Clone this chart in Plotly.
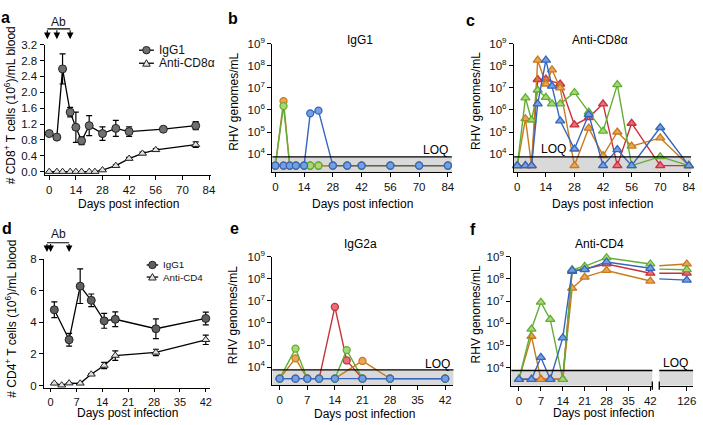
import plotly.graph_objects as go

W, H = 703, 425
def px(x): return x / W
def py(y): return 1 - y / H

# ---------------- data ----------------
# panel a : CD8+ T cells
cd8_igg_days = [0, 4, 7, 11, 14, 17, 21, 28, 35, 42, 60, 77]
cd8_igg_vals = [0.96, 0.87, 2.59, 1.50, 1.12, 0.78, 1.16, 0.96, 1.09, 1.01, 1.07, 1.16]
cd8_igg_err = [0.03, 0.03, 0.38, 0.12, 0.38, 0.10, 0.25, 0.17, 0.20, 0.12, 0.03, 0.10]
cd8_anti_days = [0, 4, 7, 11, 14, 17, 21, 24, 28, 35, 42, 49, 56, 77]
cd8_anti_vals = [0, 0, 0, 0, 0, 0, 0, 0, 0.04, 0.15, 0.33, 0.46, 0.55, 0.68]
cd8_anti_err = [0, 0, 0, 0, 0, 0, 0, 0, 0.01, 0.02, 0.03, 0.03, 0.03, 0.07]
cd8_ab_days = [-1, 4, 11]
cd8_yticks = [0.0, 0.4, 0.8, 1.2, 1.6, 2.0, 2.4, 2.8, 3.2]
days84_ticks = [0, 14, 28, 42, 56, 70, 84]

# panel d : CD4+ T cells
cd4_igg_days = [1, 5, 8, 11, 14.5, 17.5, 28.5, 42]
cd4_igg_vals = [4.8, 2.9, 6.3, 5.4, 4.1, 4.2, 3.6, 4.25]
cd4_igg_err = [0.5, 0.4, 1.1, 0.4, 0.47, 0.47, 0.63, 0.4]
cd4_anti_days = [1, 3, 5, 8, 11, 14.5, 17.5, 28.5, 42]
cd4_anti_vals = [0.14, 0.02, 0.15, 0.14, 0.71, 1.27, 1.9, 2.1, 2.9]
cd4_anti_err = [0.02, 0.02, 0.02, 0.02, 0.05, 0.2, 0.3, 0.2, 0.3]
cd4_ab_days = [-1, 0, 5]
cd4_yticks = [0, 2, 4, 6, 8]
days42_ticks = [0, 7, 14, 21, 28, 35, 42]

# viral loads
LOQ = 7500
BLQ = 3000
log_ticks = [1e4, 1e5, 1e6, 1e7, 1e8, 1e9]
log_ticklabels = ['10<sup>4</sup>', '10<sup>5</sup>', '10<sup>6</sup>',
                  '10<sup>7</sup>', '10<sup>8</sup>', '10<sup>9</sup>']

# panel b : IgG1
b_days = [0, 4, 7, 10, 14, 17, 21, 28, 35, 42, 56, 70, 84]
b_red = [BLQ] * 13
b_orange = [BLQ, 2.5e6, BLQ, BLQ, BLQ, BLQ, BLQ, BLQ, BLQ, BLQ, BLQ, BLQ, BLQ]
b_green = [BLQ, 1.5e6, BLQ, BLQ, BLQ, BLQ, BLQ, BLQ, BLQ, BLQ, BLQ, BLQ, BLQ]
b_blue = [BLQ, BLQ, BLQ, BLQ, BLQ, 7e5, 9.3e5, BLQ, BLQ, BLQ, BLQ, BLQ, BLQ]

# panel c : anti-CD8a
c_days = [0, 4, 7, 10, 14, 17, 21, 28, 35, 42, 49, 56, 70, 84]
c_red = [BLQ, BLQ, BLQ, 2.4e7, 2.5e7, None, 1.5e7, 2.1e5, 4.5e5, 1.9e6, BLQ, 2.5e5, BLQ, BLQ]
c_orange = [BLQ, 4e5, BLQ, 1.8e8, 1.5e7, 6.6e7, 1e7, BLQ, 1.5e5, 8.5e3, 1e5, 2.3e4, 5.4e4, BLQ]
c_green = [BLQ, 3.5e6, 3.5e5, 8e6, 3.7e6, 1.9e6, 1.9e6, 6.2e6, 8e5, 1.1e5, 1.4e7, BLQ, 7.6e3, BLQ]
c_blue = [BLQ, BLQ, BLQ, 1.9e6, 1.8e8, 1.2e7, 3.2e5, 1.7e4, 6.2e5, BLQ, 1.6e4, BLQ, 1.6e5, BLQ]

# panel e : IgG2a
e_days = [0, 4, 7, 10, 14, 17, 21, 28, 42]
e_red = [BLQ, BLQ, BLQ, BLQ, 5.3e6, 2e4, BLQ, BLQ, BLQ]
e_orange = [BLQ, 2.5e4, BLQ, BLQ, BLQ, None, 1.9e4, BLQ, BLQ]
e_green = [BLQ, 6.9e4, BLQ, BLQ, BLQ, 5.9e4, BLQ, BLQ, BLQ]
e_blue = [BLQ, BLQ, BLQ, BLQ, BLQ, None, BLQ, BLQ, BLQ]

# panel f : anti-CD4
f_days = [0, 4, 7, 10, 14, 17, 21, 28, 42, 126]
f_red = [BLQ, BLQ, BLQ, BLQ, BLQ, 2.2e8, 2.8e8, 4.7e8, 1.8e8, 1.8e8]
f_orange = [BLQ, 2.6e5, BLQ, BLQ, BLQ, 3.8e7, 1.2e8, 2.4e8, 8e7, 4.7e8]
f_green = [BLQ, 5.5e5, 8.9e6, 1.5e6, BLQ, 2.6e8, 3.7e8, 9e8, 4.7e8, 2.6e8]
f_blue = [BLQ, BLQ, 2.9e4, BLQ, 2.2e5, 2.4e8, 2.6e8, 5.8e8, 3e8, 8.8e7]
f_late_ticks = [126]

# ---------------- styles ----------------
FONT = 'Liberation Sans, Arial, sans-serif'
COL = {
    'red': ('#c8303c', '#e4707a'),
    'orange': ('#c87a1e', '#eaa555'),
    'green': ('#62ad35', '#a8d873'),
    'blue': ('#3565bd', '#72a0e0'),
}
LOGMIN, LOGMAX = 3.19, 9.0

fig = go.Figure()

def add_series(x, y, err, symbol, fill, xa, ya, size):
    fig.add_trace(go.Scatter(
        x=x, y=y, mode='lines+markers', xaxis=xa, yaxis=ya, showlegend=False,
        line=dict(color='black', width=1.3),
        marker=dict(symbol=symbol, size=size, color=fill, line=dict(color='#222', width=1)),
        error_y=dict(type='data', array=err, color='black', thickness=1.2, width=3),
        cliponaxis=False))

add_series(cd8_anti_days, cd8_anti_vals, cd8_anti_err, 'triangle-up', '#e2e2e2', 'x', 'y', 7)
add_series(cd8_igg_days, cd8_igg_vals, cd8_igg_err, 'circle', '#707070', 'x', 'y', 8)
add_series(cd4_anti_days, cd4_anti_vals, cd4_anti_err, 'triangle-up', '#e2e2e2', 'x4', 'y4', 7)
add_series(cd4_igg_days, cd4_igg_vals, cd4_igg_err, 'circle', '#606060', 'x4', 'y4', 8)

def add_viral(x, y, cname, symbol, xa, ya, clip=False):
    line_c, fill_c = COL[cname]
    fig.add_trace(go.Scatter(
        x=x, y=y, mode='lines+markers', xaxis=xa, yaxis=ya, showlegend=False,
        connectgaps=True, cliponaxis=clip,
        line=dict(color=line_c, width=1.4),
        marker=dict(symbol=symbol, size=7 if symbol == 'circle' else 8,
                    color=fill_c, line=dict(color=line_c, width=1.3))))

for name, vals in [('red', b_red), ('orange', b_orange), ('green', b_green), ('blue', b_blue)]:
    add_viral(b_days, vals, name, 'circle', 'x2', 'y2')
for name, vals in [('red', c_red), ('orange', c_orange), ('green', c_green), ('blue', c_blue)]:
    add_viral(c_days, vals, name, 'triangle-up', 'x3', 'y3')
for name, vals in [('red', e_red), ('orange', e_orange), ('green', e_green), ('blue', e_blue)]:
    add_viral(e_days, vals, name, 'circle', 'x5', 'y5')
for name, vals in [('red', f_red), ('orange', f_orange), ('green', f_green), ('blue', f_blue)]:
    add_viral(f_days[:-1], vals[:-1], name, 'triangle-up', 'x6', 'y6')
    add_viral(f_days[-2:], vals[-2:], name, 'triangle-up', 'x7', 'y6', clip=True)

axis_common = dict(showline=True, linecolor='black', linewidth=1.3, showgrid=False,
                   zeroline=False, ticks='outside', ticklen=4, tickwidth=1.2,
                   tickcolor='black', tickfont=dict(family=FONT, size=11.5, color='#111'))

def xax(l, r, rng, ticks, anchor):
    d = dict(axis_common)
    d.update(domain=[px(l), px(r)], range=rng, tickvals=ticks, anchor=anchor)
    return d

def yax(top, bottom, rng, ticks, anchor, log=False, fmt=None, text=None):
    d = dict(axis_common)
    d.update(domain=[py(bottom), py(top)], range=rng, tickvals=ticks, anchor=anchor)
    if log:
        d.update(type='log', ticktext=text)
    if fmt:
        d.update(tickformat=fmt)
    return d

layout = dict(
    width=W, height=H, margin=dict(l=0, r=0, t=0, b=0),
    paper_bgcolor='white', plot_bgcolor='white', showlegend=False,
    font=dict(family=FONT, size=12, color='#111'),
    xaxis=xax(45, 213, [-2.4, 85.3], days84_ticks, 'y'),
    yaxis=yax(37.7, 171, [-0.074, 3.2], cd8_yticks, 'x', fmt='.1f'),
    xaxis2=xax(274.3, 455, [-1.45, 85.9], days84_ticks, 'y2'),
    yaxis2=yax(36.7, 168.3, [LOGMIN, LOGMAX], log_ticks, 'x2', log=True, text=log_ticklabels),
    xaxis3=xax(517.7, 696, [-1.6, 85.1], days84_ticks, 'y3'),
    yaxis3=yax(36.7, 168.3, [LOGMIN, LOGMAX], log_ticks, 'x3', log=True, text=log_ticklabels),
    xaxis4=xax(44.3, 211.7, [-1.8, 43.2], days42_ticks, 'y4'),
    yaxis4=yax(258, 390.3, [-0.17, 8], cd4_yticks, 'x4'),
    xaxis5=xax(274.3, 456.7, [-1.87, 44.1], days42_ticks, 'y5'),
    yaxis5=yax(255.3, 387, [LOGMIN, LOGMAX], log_ticks, 'x5', log=True, text=log_ticklabels),
    xaxis6=xax(515, 657, [-2.44, 42.63], days42_ticks, 'y6'),
    yaxis6=yax(255.3, 387.7, [LOGMIN, LOGMAX], log_ticks, 'x6', log=True, text=log_ticklabels),
    xaxis7=xax(664, 698, [117.2, 128], f_late_ticks, 'y6'),
)
# panel d ticks a little tighter so labels keep clear of the title
layout['xaxis4']['ticklen'] = 3
layout['xaxis4']['tickfont'] = dict(family=FONT, size=11, color='#111')

shapes = []
# LOQ bands and lines
for xa, ya in [('x2', 'y2'), ('x3', 'y3'), ('x5', 'y5'), ('x6', 'y6'), ('x7', 'y6')]:
    shapes.append(dict(type='rect', xref=xa + ' domain', yref=ya, x0=0, x1=1,
                       y0=10 ** LOGMIN, y1=LOQ, fillcolor='#d9d9d9', line=dict(width=0),
                       layer='below'))
    shapes.append(dict(type='line', xref=xa + ' domain', yref=ya, x0=0, x1=1,
                       y0=LOQ, y1=LOQ, line=dict(color='black', width=1.4)))
# axis break marks in panel f
for xb in [657, 664]:
    shapes.append(dict(type='line', xref='paper', yref='paper', x0=px(xb), x1=px(xb),
                       y0=py(392), y1=py(383.5), line=dict(color='black', width=1.3)))

annotations = []
# Ab dosing brackets
for xa, days, yb, ytip, ytext in [('x', cd8_ab_days, 21.5, 32.0, 14), ('x4', cd4_ab_days, 241, 250.5, 232)]:
    shapes.append(dict(type='line', xref=xa, yref='paper', x0=days[0], x1=days[-1],
                       y0=py(yb), y1=py(yb), line=dict(color='black', width=1.2)))
    for d in days:
        annotations.append(dict(x=d, y=py(ytip), xref=xa, yref='paper', text='',
                                showarrow=True, ax=0, ay=-(ytip - yb), arrowhead=2,
                                arrowsize=1.2, arrowwidth=1.1, arrowcolor='black'))
    annotations.append(dict(x=(days[0] + days[-1]) / 2, y=py(ytext), xref=xa, yref='paper',
                            text='Ab', showarrow=False, yanchor='middle', font=dict(size=12)))

# manual legends
def legend_entry(x0, x1, y, marker, fill, label, fsize):
    cx = (x0 + x1) / 2
    shapes.append(dict(type='line', xref='paper', yref='paper', x0=px(x0), x1=px(x1),
                       y0=py(y), y1=py(y), line=dict(color='black', width=1.3)))
    if marker == 'circle':
        r = 3.8
        shapes.append(dict(type='circle', xref='paper', yref='paper', x0=px(cx - r), x1=px(cx + r),
                           y0=py(y + r), y1=py(y - r), fillcolor=fill,
                           line=dict(color='#222', width=1)))
    else:
        s = 3.8
        path = 'M {:.5f},{:.5f} L {:.5f},{:.5f} L {:.5f},{:.5f} Z'.format(
            px(cx - s), py(y + s * 0.8), px(cx + s), py(y + s * 0.8), px(cx), py(y - s * 0.95))
        shapes.append(dict(type='path', xref='paper', yref='paper', path=path, fillcolor=fill,
                           line=dict(color='#222', width=1)))
    annotations.append(dict(x=px(x1 + 3), y=py(y), xref='paper', yref='paper', text=label,
                            xanchor='left', yanchor='middle', showarrow=False,
                            font=dict(size=fsize)))

legend_entry(140, 155, 43.3, 'circle', '#707070', 'IgG1', 12)
legend_entry(140, 155, 56.7, 'triangle', '#e2e2e2', 'Anti-CD8α', 12)
legend_entry(147.7, 159.3, 263.8, 'circle', '#606060', 'IgG1', 9.8)
legend_entry(147.7, 159.3, 276.2, 'triangle', '#e2e2e2', 'Anti-CD4', 9.8)

def text(x, y, s, size=12, angle=0, anchor='center', bold=False):
    annotations.append(dict(x=px(x), y=py(y), xref='paper', yref='paper',
                            text='<b>%s</b>' % s if bold else s, textangle=angle,
                            xanchor=anchor, yanchor='middle', showarrow=False,
                            font=dict(size=size, color='black')))

# panel letters
for letter, x, y in [('a', 6, 10), ('b', 235, 11), ('c', 474, 13),
                     ('d', 7, 226), ('e', 236, 226), ('f', 476, 227)]:
    text(x, y, letter, size=16, bold=True)

# panel titles
text(363, 33, 'IgG1')
text(604, 33, 'Anti-CD8α')
text(363, 242.7, 'IgG2a')
text(604, 242.7, 'Anti-CD4')

# LOQ labels
text(453, 146, 'LOQ', anchor='right')
text(543, 145, 'LOQ', anchor='left')
text(455, 365, 'LOQ', anchor='right')
text(695, 364, 'LOQ', anchor='right')

# axis titles
for x, y in [(129, 201), (365, 201), (607, 201), (128, 415.5), (367, 417), (608, 416)]:
    text(x, y, 'Days post infection')
text(10, 100, '# CD8<sup>+</sup> T cells (10<sup>6</sup>)/mL blood', angle=-90)
text(11, 319, '# CD4<sup>+</sup> T cells (10<sup>6</sup>)/mL blood', angle=-90)
for x, y in [(235, 96), (479, 96), (235, 315), (479, 315)]:
    text(x, y, 'RHV genomes/mL', angle=-90)

layout['shapes'] = shapes
layout['annotations'] = annotations
fig.update_layout(**layout)
fig.write_html('out.html', config={'displayModeBar': False},
               post_script="document.body.style.margin='0px';document.body.style.overflow='hidden';")
